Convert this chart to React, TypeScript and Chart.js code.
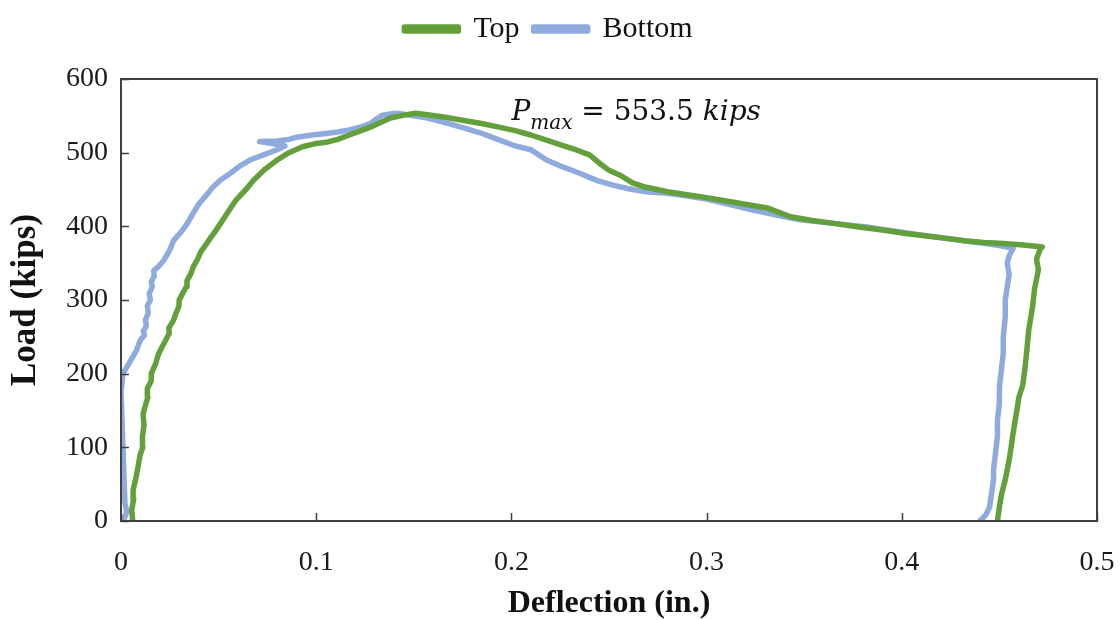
import React, { useEffect, useRef } from "react";
import { Chart, registerables } from "chart.js";

Chart.register(...registerables);

// ---------- data ----------
const SERIES_NAMES = ["Top", "Bottom"];
const X_TITLE = "Deflection (in.)";
const Y_TITLE = "Load (kips)";
const X_TICKS = [0, 0.1, 0.2, 0.3, 0.4, 0.5];
const Y_TICKS = [0, 100, 200, 300, 400, 500, 600];
const ANNOT_P = "P";
const ANNOT_SUB = "max";
const ANNOT_MID = " = 553.5 ";
const ANNOT_UNIT = "kips";
const ANNOT_AT = [0.2, 545];

const topX = [
  0.006, 0.0055, 0.0065, 0.0062, 0.0078, 0.0088, 0.0098, 0.0112, 0.011, 0.0118, 0.0113, 0.0128, 0.0138, 0.0135, 0.0155,
  0.0155, 0.0178, 0.019, 0.0202, 0.0218, 0.023, 0.0247, 0.0245, 0.0268, 0.0282, 0.0297, 0.0298, 0.0318, 0.0335, 0.0338,
  0.0358, 0.037, 0.039, 0.041, 0.044, 0.046, 0.048, 0.051, 0.055, 0.059, 0.064, 0.068, 0.074, 0.08, 0.086,
  0.093, 0.099, 0.105, 0.111, 0.117, 0.123, 0.128, 0.133, 0.138, 0.145, 0.151, 0.158, 0.166, 0.175, 0.184,
  0.193, 0.202, 0.21, 0.218, 0.226, 0.233, 0.24, 0.245, 0.25, 0.256, 0.262, 0.269, 0.28, 0.29, 0.3, 0.313,
  0.322, 0.331, 0.337, 0.343, 0.354, 0.365, 0.378, 0.39, 0.403, 0.416, 0.425, 0.433, 0.442, 0.45, 0.461,
  0.472, 0.471, 0.469, 0.47, 0.468, 0.467, 0.466, 0.465, 0.464, 0.463, 0.462, 0.46, 0.459, 0.458, 0.457,
  0.456, 0.455, 0.453, 0.451, 0.45, 0.449,
];
const topY = [
  0, 15, 30, 42, 60, 75, 90, 100, 115, 130, 145, 160, 168, 180, 190,
  200, 214, 225, 232, 240, 246, 255, 262, 272, 282, 292, 300, 310, 318, 326,
  336, 345, 354, 366, 377, 385, 392, 404, 420, 436, 450, 463, 478, 490, 500,
  508, 512, 514, 518, 524, 530, 535, 541, 547, 551, 553.5, 551, 548, 544, 540,
  535, 530, 524, 517, 510, 504, 497, 486, 476, 469, 459, 453, 447, 443, 439, 433,
  429, 425, 419, 413, 408, 404, 399, 395, 390, 386, 383, 380, 378, 377, 375,
  372, 370, 355, 341, 315, 291, 275, 259, 230, 205, 185, 168, 151, 135, 119,
  100, 83, 56, 35, 19, 0,
];

const bottomX = [
  0.001, 0.003, 0.002, 0.0, 0.001, 0.005, 0.008, 0.01, 0.012, 0.0115, 0.013, 0.0125, 0.014, 0.0135, 0.015,
  0.0145, 0.016, 0.0155, 0.017, 0.0168, 0.019, 0.022, 0.025, 0.027, 0.031, 0.034, 0.037, 0.04, 0.044, 0.047,
  0.051, 0.056, 0.061, 0.066, 0.073, 0.08, 0.084, 0.078, 0.071, 0.08, 0.086, 0.09, 0.098, 0.105, 0.111,
  0.117, 0.123, 0.128, 0.131, 0.134, 0.139, 0.143, 0.15, 0.157, 0.167, 0.175, 0.184, 0.192, 0.201, 0.21,
  0.214, 0.218, 0.226, 0.235, 0.244, 0.252, 0.26, 0.269, 0.28, 0.29, 0.3, 0.313, 0.322, 0.331, 0.34, 0.348,
  0.365, 0.382, 0.4, 0.416, 0.43, 0.442, 0.45, 0.457, 0.455, 0.454, 0.455, 0.454, 0.453, 0.453, 0.452, 0.452,
  0.451, 0.45, 0.45, 0.449, 0.449, 0.448, 0.447, 0.447, 0.446, 0.445, 0.443, 0.44,
];
const bottomY = [
  0, 12, 25, 175, 200, 218, 232, 246, 252, 258, 265, 273, 282, 292, 300,
  309, 318, 325, 332, 340, 345, 354, 368, 381, 393, 404, 418, 431, 443, 453,
  463, 472, 482, 490, 497, 504, 509, 512, 515, 516, 518, 521, 524, 526, 528,
  531, 535, 540, 546, 551, 553, 553, 550, 547, 540, 534, 527, 519, 510, 504,
  497, 490, 481, 472, 462, 456, 451, 447, 445, 441, 437, 429, 423, 418, 413, 409,
  404, 399, 392, 386, 381, 377, 374, 370, 360, 350, 335, 318, 300, 277, 250, 228,
  205, 182, 160, 137, 115, 92, 70, 56, 38, 19, 8, 0,
];

const COLORS = ["#63A03C", "#8FAADC"];

// ---------- helpers ----------
const toPoints = (xs: number[], ys: number[]) => xs.map((x, i) => ({ x, y: ys[i] }));

const framePlugin = {
  id: "frameAndTicks",
  afterDatasetsDraw(chart: any) {
    const { ctx, chartArea, scales } = chart;
    const { left, right, top, bottom } = chartArea;
    ctx.save();
    ctx.strokeStyle = "#404040";
    ctx.lineWidth = 2;
    ctx.strokeRect(left, top, right - left, bottom - top);
    ctx.lineWidth = 1.5;
    ctx.beginPath();
    Y_TICKS.forEach((v) => {
      const py = Math.round(scales.y.getPixelForValue(v)) + 0.5;
      ctx.moveTo(left, py);
      ctx.lineTo(left + 8, py);
    });
    X_TICKS.forEach((v) => {
      const px = Math.round(scales.x.getPixelForValue(v)) + 0.5;
      ctx.moveTo(px, bottom);
      ctx.lineTo(px, bottom - 8);
    });
    ctx.stroke();

    // annotation
    let px = scales.x.getPixelForValue(ANNOT_AT[0]);
    const py = scales.y.getPixelForValue(ANNOT_AT[1]);
    ctx.fillStyle = "#111";
    ctx.textBaseline = "alphabetic";
    ctx.textAlign = "left";
    ctx.font = "italic 28px 'DejaVu Serif'";
    ctx.fillText(ANNOT_P, px, py);
    px += ctx.measureText(ANNOT_P).width;
    ctx.font = "italic 20px 'DejaVu Serif'";
    ctx.fillText(ANNOT_SUB, px, py + 9);
    px += ctx.measureText(ANNOT_SUB).width;
    ctx.font = "28px 'DejaVu Serif'";
    ctx.fillText(ANNOT_MID, px, py);
    px += ctx.measureText(ANNOT_MID).width;
    ctx.font = "italic 28px 'DejaVu Serif'";
    ctx.fillText(ANNOT_UNIT, px, py);
    ctx.restore();
  },
};

const legendHeightPlugin = {
  id: "legendHeight",
  afterInit(chart: any) {
    const lg = chart.legend;
    if (lg && !lg.__wrapped) {
      const orig = lg.fit.bind(lg);
      lg.fit = function () {
        orig();
        this.height = 79;
      };
      lg.__wrapped = true;
    }
  },
};

export default function App() {
  const ref = useRef<HTMLCanvasElement | null>(null);

  useEffect(() => {
    if (!ref.current) return;
    const serif = "'Liberation Serif', 'Times New Roman', serif";
    const lineCommon = {
      borderWidth: 5.5,
      pointRadius: 0,
      tension: 0,
      fill: false,
      borderJoinStyle: "round",
      borderCapStyle: "round",
    };
    const chart = new Chart(ref.current, {
      type: "line",
      data: {
        datasets: [
          {
            label: SERIES_NAMES[0],
            data: toPoints(topX, topY),
            borderColor: COLORS[0],
            backgroundColor: COLORS[0],
            ...lineCommon,
          },
          {
            label: SERIES_NAMES[1],
            data: toPoints(bottomX, bottomY),
            borderColor: COLORS[1],
            backgroundColor: COLORS[1],
            ...lineCommon,
          },
        ],
      },
      options: {
        responsive: false,
        animation: false,
        layout: { padding: { left: 0, right: 23, top: 0, bottom: 0 } },
        plugins: {
          tooltip: { enabled: false },
          legend: {
            position: "top",
            labels: {
              boxWidth: 54,
              boxHeight: 4,
              padding: 14,
              color: "#111",
              font: { family: serif, size: 30 },
            },
          },
        },
        scales: {
          x: {
            type: "linear",
            min: 0,
            max: 0.5,
            afterBuildTicks: (s: any) => {
              s.ticks = X_TICKS.map((v) => ({ value: v }));
            },
            afterFit: (s: any) => {
              s.height = 99;
              s.paddingLeft = 0;
              s.paddingRight = 0;
            },
            grid: { display: false, drawTicks: false },
            border: { display: false },
            ticks: {
              padding: 25,
              color: "#1a1a1a",
              font: { family: serif, size: 28 },
              callback: (v: any) => String(v),
              maxRotation: 0,
            },
            title: {
              display: true,
              text: X_TITLE,
              color: "#111",
              font: { family: serif, size: 32, weight: "bold", lineHeight: 1 },
              padding: { top: 0, bottom: 0 },
            },
          },
          y: {
            type: "linear",
            min: 0,
            max: 600,
            afterBuildTicks: (s: any) => {
              s.ticks = Y_TICKS.map((v) => ({ value: v }));
            },
            afterFit: (s: any) => {
              s.width = 121;
              s.paddingTop = 0;
              s.paddingBottom = 0;
            },
            grid: { display: false, drawTicks: false },
            border: { display: false },
            ticks: {
              padding: 13,
              color: "#1a1a1a",
              font: { family: serif, size: 28 },
            },
            title: {
              display: true,
              text: Y_TITLE,
              color: "#111",
              font: { family: serif, size: 35, weight: "bold", lineHeight: 1 },
              padding: { top: 8, bottom: 0 },
            },
          },
        },
      },
      plugins: [framePlugin, legendHeightPlugin],
    } as any);
    return () => chart.destroy();
  }, []);

  return (
    <div style={{ position: "absolute", left: 0, top: 0, width: 1120, height: 620, background: "#fff" }}>
      <canvas ref={ref} width={1120} height={620} style={{ display: "block" }} />
    </div>
  );
}
